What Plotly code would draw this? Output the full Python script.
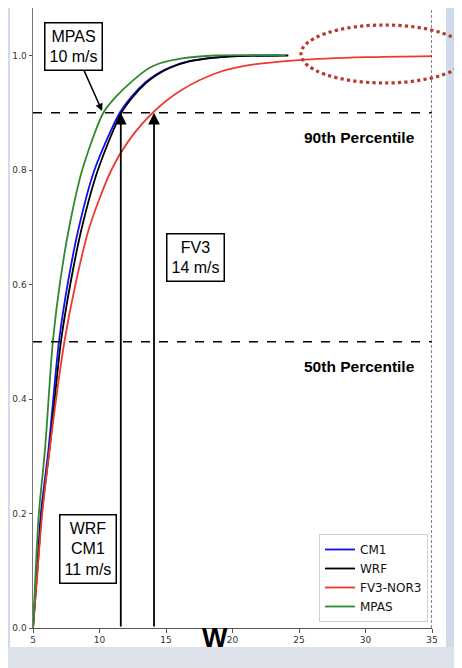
import plotly.graph_objects as go

# ---------------- data ----------------
cm1_w = [5.0, 5.29, 5.59, 6.16, 6.95, 7.6, 8.45, 9.62, 11.52, 12.4, 13.44, 14.26, 15.26, 16.73, 18.44, 20.4, 23.5]
cm1_p = [0.0, 0.1, 0.2, 0.311, 0.5, 0.6, 0.7, 0.8, 0.9, 0.928, 0.953, 0.967, 0.979, 0.99, 0.996, 0.999, 1.0]

wrf_w = [5.0, 5.33, 5.66, 6.24, 7.1, 7.8, 8.68, 9.88, 11.65, 12.52, 13.55, 14.36, 15.36, 16.83, 18.54, 20.5, 24.2]
wrf_p = [0.0, 0.1, 0.2, 0.311, 0.5, 0.6, 0.7, 0.8, 0.9, 0.928, 0.953, 0.967, 0.979, 0.99, 0.996, 0.999, 1.0]

fv3_w = [5.0, 5.34, 5.69, 6.24, 7.36, 8.19, 9.24, 10.89, 12.16, 14.0, 16.2, 18.76, 21.24, 25.0, 30.0, 35.0]
fv3_p = [0.0, 0.1, 0.2, 0.311, 0.5, 0.6, 0.7, 0.8, 0.85, 0.9, 0.94, 0.969, 0.983, 0.992, 0.997, 0.999]

mpas_w = [5.0, 5.2, 5.44, 5.9, 6.49, 7.01, 7.72, 8.7, 10.29, 11.24, 12.5, 13.74, 14.49, 16.2, 18.76, 24.0]
mpas_p = [0.0, 0.1, 0.2, 0.311, 0.5, 0.6, 0.7, 0.8, 0.9, 0.928, 0.956, 0.978, 0.986, 0.995, 1.0, 1.0]

percentiles = [0.9, 0.5]
percentile_labels = ["90th Percentile", "50th Percentile"]
w90_mpas = 10.2
w90_wrf_cm1 = 11.6
w90_fv3 = 14.1
x_ticks = [5, 10, 15, 20, 25, 30, 35]
y_ticks = [0.0, 0.2, 0.4, 0.6, 0.8, 1.0]

series = [
    ("CM1", cm1_w, cm1_p, "#1010f0"),
    ("WRF", wrf_w, wrf_p, "#000000"),
    ("FV3-NOR3", fv3_w, fv3_p, "#ee3a2e"),
    ("MPAS", mpas_w, mpas_p, "#2f8a2f"),
]

fig = go.Figure()
for name, w, p, c in series:
    fig.add_trace(go.Scatter(x=w, y=p, mode="lines", name=name,
                             line=dict(color=c, width=1.8, shape="spline", smoothing=0.8)))

# page has an 8px body margin; figure is 454x660 and coordinates below are page px
OFF = 8
W_FIG, H_FIG = 454, 660
L, R, T, B = 25, 30, 0, 40
pw, ph = W_FIG - L - R, H_FIG - T - B
Y_TOP = ph / 572.5  # value at top of plot area


def px(xp):
    return (xp - OFF - L) / pw


def py(yp):
    return (H_FIG - B - (yp - OFF)) / ph


shapes = []
shapes.append(dict(type="rect", xref="paper", yref="paper", x0=px(-5), x1=px(470), y0=py(647), y1=py(680),
                   fillcolor="#dde2ea", line=dict(width=0), layer="below"))
shapes.append(dict(type="rect", xref="paper", yref="paper", x0=px(10), x1=px(446), y0=py(647), y1=py(0),
                   fillcolor="white", line=dict(width=0), layer="below"))
for pv in percentiles:
    shapes.append(dict(type="line", xref="x", yref="y", x0=5, x1=35, y0=pv, y1=pv,
                       line=dict(color="black", width=1.3, dash="dash")))
shapes.append(dict(type="line", xref="x", yref="paper", x0=35, x1=35, y0=0, y1=1,
                   line=dict(color="#444444", width=1.3, dash="3px,2px")))
shapes.append(dict(type="circle", xref="paper", yref="paper", x0=px(301), x1=px(468), y0=py(83), y1=py(25),
                   line=dict(color="#b8382c", width=3.2, dash="dot")))

annotations = []
for pv, lab in zip(percentiles, percentile_labels):
    annotations.append(dict(x=33.9, y=pv - 0.044, xref="x", yref="y", text="<b>" + lab + "</b>",
                            showarrow=False, xanchor="right",
                            font=dict(family="Liberation Sans", size=15.5, color="black")))
for wv in [w90_wrf_cm1, w90_fv3]:
    annotations.append(dict(x=wv, y=0.9, ax=wv, ay=0, xref="x", yref="y", axref="x", ayref="y",
                            text="", showarrow=True, arrowhead=2, arrowsize=1.3, arrowwidth=1.8,
                            arrowcolor="black"))
box_font = dict(family="Liberation Sans", size=16, color="black")
annotations.append(dict(x=w90_mpas, y=0.903, ax=8.04, ay=1.015, xref="x", yref="y", axref="x", ayref="y",
                        text="MPAS<br>10 m/s", showarrow=True, arrowhead=2, arrowsize=1.0, arrowwidth=1.5,
                        arrowcolor="black", font=box_font, bgcolor="white", bordercolor="black",
                        borderwidth=1.5, borderpad=4))
annotations.append(dict(x=17.22, y=0.648, xref="x", yref="y", text="FV3<br>14 m/s", showarrow=False,
                        font=box_font, bgcolor="white", bordercolor="black", borderwidth=1.5, borderpad=4))
annotations.append(dict(x=9.12, y=0.138, xref="x", yref="y", text="WRF<br>CM1<br>11 m/s", showarrow=False,
                        font=box_font, bgcolor="white", bordercolor="black", borderwidth=1.5, borderpad=4))
annotations.append(dict(x=px(215), y=py(655), xref="paper", yref="paper", text="<b>W</b>", showarrow=False,
                        font=dict(family="Liberation Sans", size=27, color="black")))

fig.update_layout(
    width=W_FIG, height=H_FIG,
    margin=dict(l=L, r=R, t=T, b=B),
    paper_bgcolor="#cfdaea",
    plot_bgcolor="white",
    shapes=shapes,
    annotations=annotations,
    showlegend=True,
    legend=dict(x=px(428), y=py(622), xanchor="right", yanchor="bottom",
                bgcolor="white", bordercolor="#d0d0d0", borderwidth=1,
                font=dict(family="DejaVu Sans", size=12, color="#111"),
                tracegroupgap=2),
    xaxis=dict(range=[5, 35], tickvals=x_ticks, showgrid=False, zeroline=False,
               showline=True, linecolor="#555", linewidth=1, ticks="outside", ticklen=3.5,
               tickcolor="#555", tickfont=dict(family="DejaVu Sans", size=9, color="#333")),
    yaxis=dict(range=[0, Y_TOP], tickvals=y_ticks, tickformat=".1f", showgrid=False, zeroline=False,
               showline=True, linecolor="#777", linewidth=1, ticks="outside", ticklen=3.5,
               tickcolor="#555", tickfont=dict(family="DejaVu Sans", size=9, color="#333")),
)

fig.write_html("out.html")
